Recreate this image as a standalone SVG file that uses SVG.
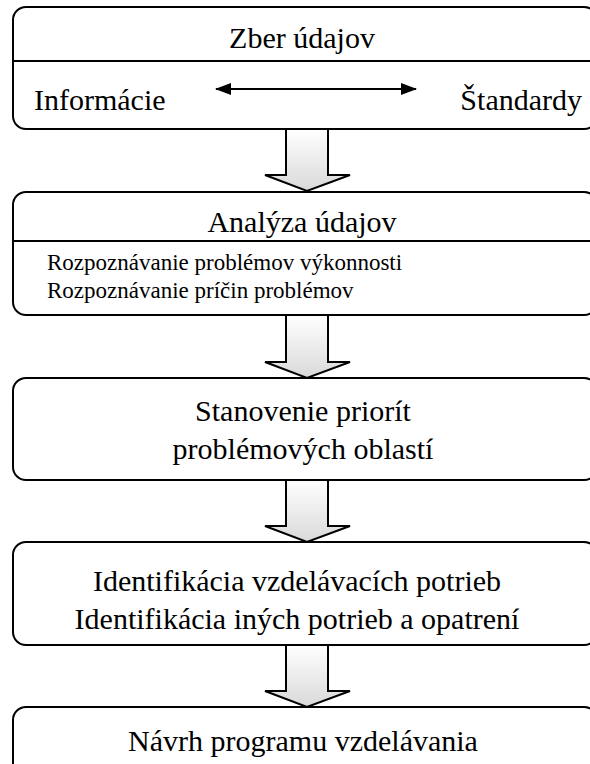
<svg xmlns="http://www.w3.org/2000/svg" width="590" height="764" viewBox="0 0 590 764" font-family="Liberation Serif, DejaVu Serif, Noto Serif, serif">
  <defs>
    <linearGradient id="shaftFill" x1="0" y1="0" x2="0" y2="1">
      <stop offset="0" stop-color="#ffffff"/>
      <stop offset="1" stop-color="#d9d9d9"/>
    </linearGradient>
    <marker id="head" viewBox="0 0 16 12" refX="15" refY="6" markerWidth="16" markerHeight="12" markerUnits="userSpaceOnUse" orient="auto-start-reverse">
      <path d="M0,0 L16,6 L0,12 z" fill="#000"/>
    </marker>
    <style>
      .box { fill: #fff; stroke: #000; stroke-width: 2; }
      .rule { stroke: #000; stroke-width: 2; }
      .big { font-size: 30px; fill: #000; }
      .small { font-size: 23px; fill: #000; }
      .flow { fill: url(#shaftFill); stroke: #000; stroke-width: 2; stroke-linejoin: miter; }
    </style>
  </defs>

  <!-- block arrows between the stages -->
  <g id="connectors">
    <path class="flow" d="M286,129 H328 V175 H350 L307,191 L265,175 H286 Z"/>
    <path class="flow" d="M286,315 H328 V362 H350 L307,378 L265,362 H286 Z"/>
    <path class="flow" d="M286,480 H328 V526 H350 L307,542 L265,526 H286 Z"/>
    <path class="flow" d="M286,645 H328 V691 H350 L307,707 L265,691 H286 Z"/>
  </g>

  <g id="zber">
    <rect class="box" x="13" y="7" width="584" height="122" rx="13"/>
    <line class="rule" x1="13" y1="61" x2="597" y2="61"/>
    <text class="big" x="302" y="48" text-anchor="middle">Zber údajov</text>
    <text class="big" x="34" y="110">Informácie</text>
    <text class="big" x="582" y="110" text-anchor="end">Štandardy</text>
    <line x1="216" y1="89" x2="416" y2="89" stroke="#000" stroke-width="2" marker-start="url(#head)" marker-end="url(#head)"/>
  </g>

  <g id="analyza">
    <rect class="box" x="13" y="192" width="584" height="123" rx="13"/>
    <line class="rule" x1="13" y1="241" x2="597" y2="241"/>
    <text class="big" x="302" y="232" text-anchor="middle">Analýza údajov</text>
    <text class="small" x="47" y="270">Rozpoznávanie problémov výkonnosti</text>
    <text class="small" x="47" y="298">Rozpoznávanie príčin problémov</text>
  </g>

  <g id="priority">
    <rect class="box" x="13" y="378" width="584" height="102" rx="13"/>
    <text class="big" x="303" y="421" text-anchor="middle">Stanovenie priorít</text>
    <text class="big" x="303" y="459" text-anchor="middle">problémových oblastí</text>
  </g>

  <g id="potreby">
    <rect class="box" x="13" y="542" width="584" height="103" rx="13"/>
    <text class="big" x="297" y="591" text-anchor="middle">Identifikácia vzdelávacích potrieb</text>
    <text class="big" x="297" y="629" text-anchor="middle">Identifikácia iných potrieb a opatrení</text>
  </g>

  <g id="navrh">
    <rect class="box" x="13" y="707" width="584" height="80" rx="13"/>
    <text class="big" x="303" y="751" text-anchor="middle">Návrh programu vzdelávania</text>
  </g>
</svg>
